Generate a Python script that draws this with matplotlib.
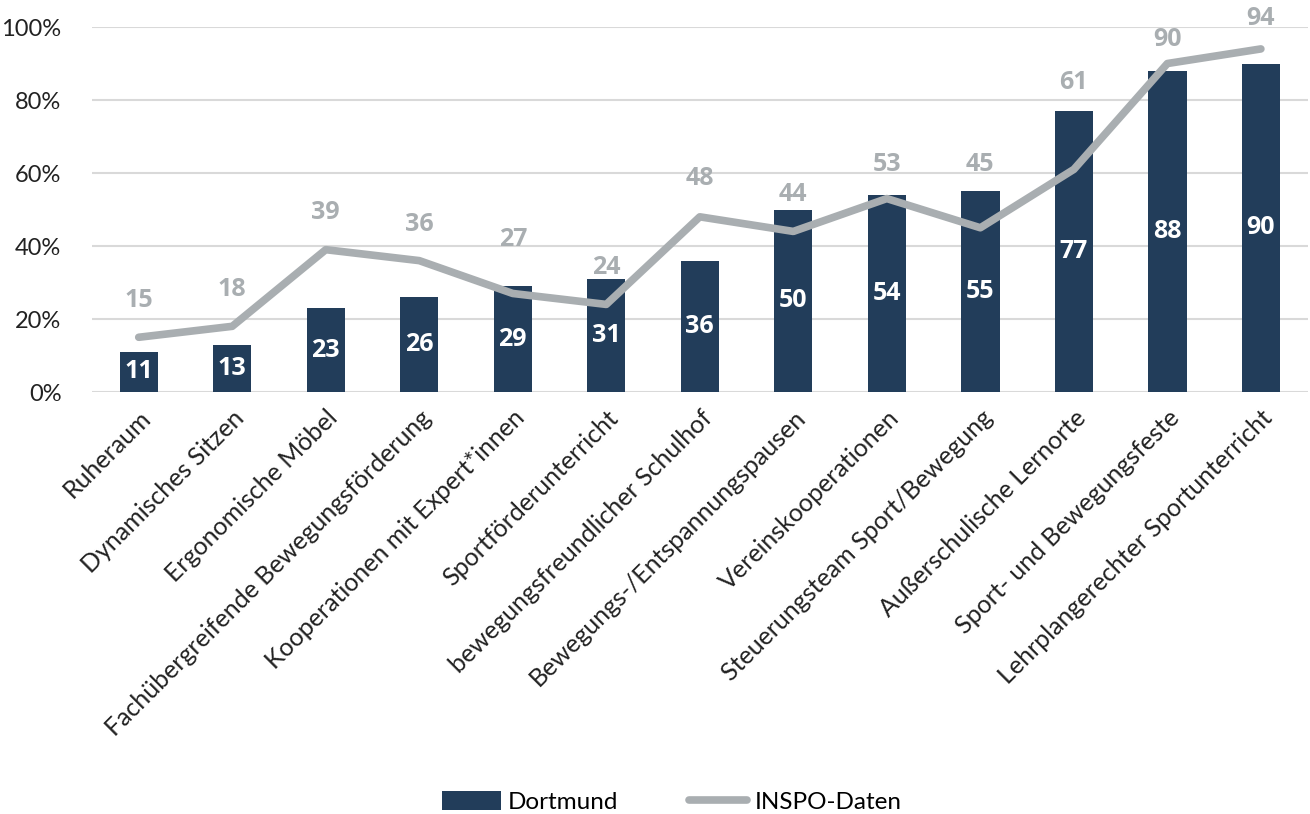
import matplotlib
matplotlib.use("Agg")
import matplotlib.pyplot as plt
from matplotlib.patches import Patch
from matplotlib.lines import Line2D

plt.rcParams['font.family'] = ['Lato', 'DejaVu Sans']

categories = [
    "Ruheraum", "Dynamisches Sitzen", "Ergonomische Möbel",
    "Fachübergreifende Bewegungsförderung", "Kooperationen mit Expert*innen",
    "Sportförderunterricht", "bewegungsfreundlicher Schulhof",
    "Bewegungs-/Entspannungspausen", "Vereinskooperationen",
    "Steuerungsteam Sport/Bewegung", "Außerschulische Lernorte",
    "Sport- und Bewegungsfeste", "Lehrplangerechter Sportunterricht",
]
dortmund = [11, 13, 23, 26, 29, 31, 36, 50, 54, 55, 77, 88, 90]
inspo = [15, 18, 39, 36, 27, 24, 48, 44, 53, 45, 61, 90, 94]
yticks = [0, 20, 40, 60, 80, 100]
ytick_labels = ["0%", "20%", "40%", "60%", "80%", "100%"]

# vertical placement of the INSPO value labels (axis units), kept clear of the bars
inspo_label_pos = [25.2, 28.2, 49.3, 46.0, 41.9, 34.2, 58.4, 54.2, 62.4, 62.4,
                   84.9, 96.7, 102.2]

bar_color = "#223D5A"
line_color = "#A9AEB1"
label_gray = "#A9AEB1"
bold_family = ['Open Sans', 'DejaVu Sans']

fig = plt.figure(figsize=(13.1, 8.14), dpi=100)
ax = fig.add_axes([0.0702, 0.5184, 0.928, 0.4484])

x = list(range(len(categories)))
ax.bar(x, dortmund, width=0.41, color=bar_color, zorder=2)
ax.plot(x, inspo, color=line_color, linewidth=5.5, solid_capstyle='round',
        solid_joinstyle='round', zorder=3)

for xi, v in zip(x, dortmund):
    ax.text(xi, v / 2, str(v), ha='center', va='center', color='white',
            fontsize=18, fontweight='bold', family=bold_family, zorder=4)
for xi, v, ly in zip(x, inspo, inspo_label_pos):
    ax.text(xi, ly, str(v), ha='center', va='center', color=label_gray,
            fontsize=18, fontweight='bold', family=bold_family, zorder=4,
            clip_on=False)

ax.set_xlim(-0.5, len(categories) - 0.5)
ax.set_ylim(0, 100)
ax.set_yticks(yticks)
ax.set_yticklabels(ytick_labels, fontsize=17, color='#222222')
ax.set_xticks(x)
ax.set_xticklabels(categories, rotation=45, ha='right', rotation_mode='anchor',
                   fontsize=18, color='#222222')
ax.tick_params(axis='both', length=0)
ax.tick_params(axis='y', pad=22)
ax.tick_params(axis='x', pad=10)
ax.grid(axis='y', color='#D9D9D9', linewidth=1.5, zorder=0)
ax.set_axisbelow(True)
for s in ax.spines.values():
    s.set_visible(False)

handles = [Patch(facecolor=bar_color, label='Dortmund'),
           Line2D([0], [0], color=line_color, linewidth=5.5,
                  solid_capstyle='round', label='INSPO-Daten')]
fig.legend(handles=handles, loc='center', bbox_to_anchor=(0.513, 0.015),
           ncol=2, frameon=False, fontsize=17.5, handlelength=2.4,
           handleheight=0.8, columnspacing=2.9, handletextpad=0.3)

fig.savefig("out.png", dpi=100)
